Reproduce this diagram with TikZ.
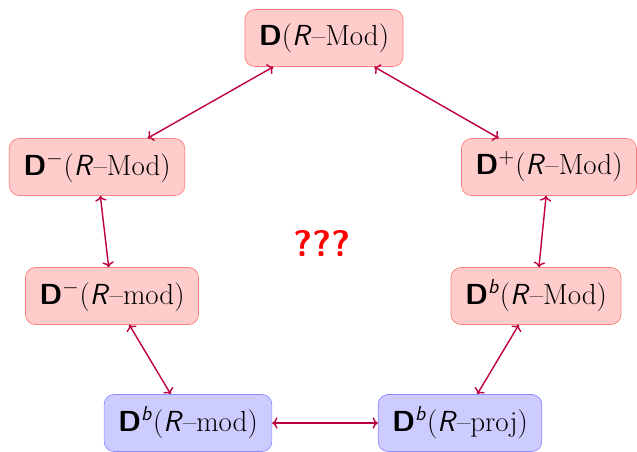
\documentclass[tikz,border=0pt,12pt]{standalone}
\usepackage{amsmath}
\usepackage{tikz}
\usetikzlibrary{arrows.meta, positioning}
\tikzset{
    redcat/.style={rectangle, rounded corners=0.2cm, minimum height=1.14cm, inner xsep=0.28cm, align=center, draw=red!50, fill=red!20, font=\fontsize{16.5}{20}\selectfont},
    bluecat/.style={rectangle, rounded corners=0.2cm, minimum height=1.14cm, inner xsep=0.28cm, align=center, draw=blue!45, fill=blue!20, font=\fontsize{16.5}{20}\selectfont},
    equiv/.style={thick, <->, >={To[length=3pt, width=6.5pt]}, draw=purple}
}
\newcommand{\Dcat}{\textsf{\textbf{D}}}
\newcommand{\Rring}{\textsf{\textit{R}}}

\begin{document}
\begin{tikzpicture}
    \useasboundingbox (0,0) rectangle (12.74,9.02);
    \node (dall) [redcat] at (6.48,8.26) {\Dcat(\Rring--Mod)};
    \node (dminus) [redcat] at (1.94,5.68) {\Dcat$^-$(\Rring--Mod)};
    \node (dplus) [redcat] at (10.98,5.68) {\Dcat$^+$(\Rring--Mod)};
    \node (dminusfg) [redcat] at (2.24,3.10) {\Dcat$^-$(\Rring--mod)};
    \node (dbounded) [redcat] at (10.72,3.10) {\Dcat$^{\textsf{\textit{b}}}$(\Rring--Mod)};
    \node (dbfg) [bluecat] at (3.76,0.56) {\Dcat$^{\textsf{\textit{b}}}$(\Rring--mod)};
    \node (dbproj) [bluecat] at (9.20,0.56) {\Dcat$^{\textsf{\textit{b}}}$(\Rring--proj)};
    \node (open) at (6.44,4.16) {\fontsize{21}{25}\selectfont\sffamily\bfseries\color{red}???};

    \draw [equiv] (dall) -- (dminus);
    \draw [equiv] (dall) -- (dplus);
    \draw [equiv] (dminus) -- (dminusfg);
    \draw [equiv] (dplus) -- (dbounded);
    \draw [equiv] (dminusfg) -- (dbfg);
    \draw [equiv] (dbounded) -- (dbproj);
    \draw [equiv] (dbfg) -- (dbproj);
\end{tikzpicture}
\end{document}
